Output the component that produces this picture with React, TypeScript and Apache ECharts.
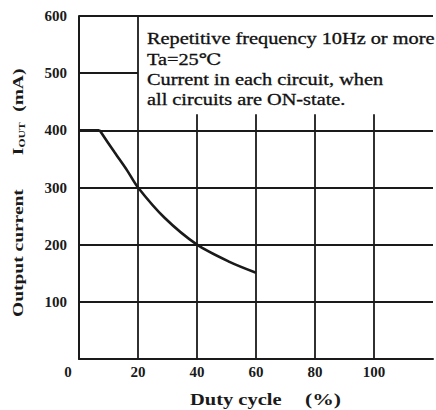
import React, { useEffect, useRef } from "react";
import * as echarts from "echarts";

const xTicks = [0, 20, 40, 60, 80, 100, 120];
const yTicks = [0, 100, 200, 300, 400, 500, 600];
const dutyCycle = [0, 7, 12, 16.3, 20, 29, 40, 51, 60];
const outputCurrent = [400, 400, 362, 330, 300, 247, 200, 170, 151];
const fullVertical = [20];
const shortVertical = [40, 60, 80, 100];
const shortVerticalTop = 428;
const fullHorizontal = [100, 200, 300, 400, 600];
const boxHorizontal = [500];
const noteLines = [
  "Repetitive frequency 10Hz or more",
  "Ta=25\u2103",
  "Current in each circuit, when",
  "all circuits are ON-state.",
];

const FONT = "'Liberation Serif', 'DejaVu Serif', serif";
const INK = "#1a1a1a";

export default function App() {
  const ref = useRef<HTMLDivElement>(null);
  useEffect(() => {
    if (!ref.current) return;
    const chart = echarts.init(ref.current, undefined, { renderer: "svg" });
    const xMax = xTicks[xTicks.length - 1];
    const yMax = yTicks[yTicks.length - 1];
    const seg = (a: number[], b: number[]) => [{ coord: a }, { coord: b }];
    const gridSegs: any[] = [];
    fullVertical.forEach((x) => gridSegs.push(seg([x, 0], [x, yMax])));
    shortVertical.forEach((x) => gridSegs.push(seg([x, 0], [x, shortVerticalTop])));
    fullHorizontal.forEach((y) => gridSegs.push(seg([0, y], [xMax, y])));
    boxHorizontal.forEach((y) => gridSegs.push(seg([0, y], [fullVertical[0], y])));

    const points = dutyCycle.map((d, i) => [d, outputCurrent[i]]);
    const labelStyle = { fontFamily: FONT, fontSize: 15, fontWeight: "bold", color: INK };

    chart.setOption({
      animation: false,
      backgroundColor: "#ffffff",
      grid: { left: 79, right: -4, top: 16, bottom: 51 },
      xAxis: {
        type: "value",
        min: 0,
        max: xMax,
        interval: 20,
        axisLine: { show: true, lineStyle: { color: INK, width: 2 } },
        axisTick: { show: false },
        splitLine: { show: false },
        axisLabel: {
          margin: 5,
          ...labelStyle,
          formatter: (v: number) => (v === 0 ? "{z|0}" : v >= 120 ? "" : String(v)),
          rich: { z: { padding: [0, 22, 0, 0], ...labelStyle } },
        },
      },
      yAxis: {
        type: "value",
        min: 0,
        max: yMax,
        interval: 100,
        axisLine: { show: true, lineStyle: { color: INK, width: 2 } },
        axisTick: { show: false },
        splitLine: { show: false },
        axisLabel: {
          margin: 12,
          ...labelStyle,
          formatter: (v: number) => (v === 0 ? "" : String(v)),
        },
      },
      graphic: [
        {
          type: "text",
          x: 147,
          y: 29,
          scaleX: 1.27,
          style: {
            text: noteLines.join("\n"),
            fontFamily: FONT,
            fontSize: 16,
            lineHeight: 20.3,
            fill: "#111",
            stroke: "#111",
            lineWidth: 0.3,
          },
        },
        {
          type: "text",
          x: 190,
          y: 400,
          scaleX: 1.28,
          style: {
            text: "Duty cycle",
            fontFamily: FONT,
            fontSize: 16,
            fontWeight: "bold",
            fill: INK,
            textVerticalAlign: "middle",
          },
        },
        {
          type: "text",
          x: 305,
          y: 400,
          scaleX: 1.35,
          style: {
            text: "(%)",
            fontFamily: FONT,
            fontSize: 16,
            fontWeight: "bold",
            fill: INK,
            textVerticalAlign: "middle",
          },
        },
        {
          type: "text",
          x: 18,
          y: 317,
          rotation: Math.PI / 2,
          scaleX: 1.3,
          style: {
            text: "{n|Output current}{g|}{n|I}{s|OUT}{g2|}{n|(mA)}",
            textAlign: "left",
            textVerticalAlign: "middle",
            rich: {
              n: { fontFamily: FONT, fontSize: 15, fontWeight: "bold", fill: INK },
              s: { fontFamily: FONT, fontSize: 9, fontWeight: "bold", fill: INK, padding: [7, 0, 0, 0] },
              g: { width: 26 },
              g2: { width: 8 },
            },
          },
        },
      ],
      series: [
        {
          type: "line",
          data: points.slice(0, 2),
          showSymbol: false,
          lineStyle: { color: INK, width: 2.6 },
          silent: true,
          z: 3,
          markLine: {
            silent: true,
            symbol: "none",
            label: { show: false },
            lineStyle: { color: INK, width: 1.8, type: "solid" },
            data: gridSegs,
          },
        },
        {
          type: "line",
          data: points.slice(1),
          showSymbol: false,
          smooth: 0.3,
          lineStyle: { color: INK, width: 2.6 },
          silent: true,
          z: 3,
        },
      ],
    });
    return () => chart.dispose();
  }, []);
  return (
    <div
      ref={ref}
      style={{ position: "fixed", left: 0, top: 0, width: 436, height: 410 }}
    />
  );
}
